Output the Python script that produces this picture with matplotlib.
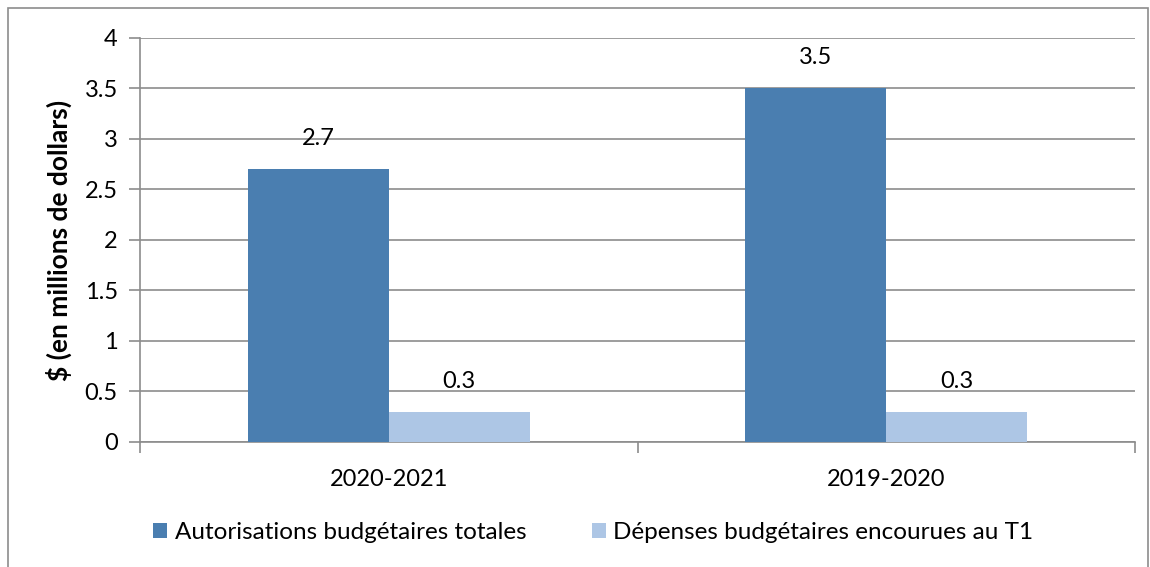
import numpy as np
import matplotlib.pyplot as plt
from matplotlib.patches import Rectangle

plt.rcParams['font.family'] = ['Lato', 'DejaVu Sans']

categories = ['2020-2021', '2019-2020']
series_names = ['Autorisations budgétaires totales', 'Dépenses budgétaires encourues au T1']
autorisations = [2.7, 3.5]
depenses = [0.3, 0.3]
y_ticks = [0, 0.5, 1, 1.5, 2, 2.5, 3, 3.5, 4]
y_tick_labels = ['0', '0.5', '1', '1.5', '2', '2.5', '3', '3.5', '4']

dark = '#4A7EB0'
light = '#ADC6E5'
grid_col = '#8C8C8C'

fig = plt.figure(figsize=(11.5, 5.67), dpi=100)
ax = fig.add_axes([0.1217, 0.2205, 0.8653, 0.7125])

x = np.arange(len(categories))
w = 0.283
b1 = ax.bar(x - w / 2, autorisations, w, color=dark, label=series_names[0], zorder=3)
b2 = ax.bar(x + w / 2, depenses, w, color=light, label=series_names[1], zorder=3)

for bars in (b1, b2):
    for r in bars:
        ax.annotate(f'{r.get_height():.1f}', (r.get_x() + r.get_width() / 2, r.get_height()),
                    xytext=(0, 22), textcoords='offset points', ha='center', va='center',
                    fontsize=17, color='black')

ax.set_xlim(-0.5, 1.5)
ax.set_ylim(0, 4)
ax.set_yticks(y_ticks)
ax.set_yticklabels(y_tick_labels, fontsize=17)
ax.yaxis.grid(True, color=grid_col, linewidth=1.2, zorder=0)
ax.tick_params(axis='y', length=8, width=1.2, color=grid_col, pad=8)

# category labels centred, tick marks at the category boundaries
ax.set_xticks([-0.5, 0.5, 1.5])
ax.set_xticklabels([])
ax.tick_params(axis='x', length=8, width=1.2, color=grid_col)
for xi, c in zip(x, categories):
    ax.text(xi, -0.27, c, ha='center', va='top', fontsize=17, transform=ax.transData)

for s in ('top', 'right'):
    ax.spines[s].set_visible(False)
for s in ('left', 'bottom'):
    ax.spines[s].set_color(grid_col)
    ax.spines[s].set_linewidth(1.2)

ax.set_ylabel('$ (en millions de dollars)', fontsize=19, fontweight='bold')
ax.yaxis.set_label_coords(-0.068, 0.5)

fig.legend(handles=[b1, b2], loc='center', bbox_to_anchor=(0.516, 0.06), ncol=2,
           frameon=False, fontsize=17.5, handlelength=0.58, handleheight=0.58,
           handletextpad=0.3, columnspacing=2.7)

fig.patches.append(Rectangle((8 / 1150, -0.01), 1140 / 1150, 1 - 8 / 567 + 0.01,
                             transform=fig.transFigure, fill=False,
                             edgecolor='#8C8C8C', linewidth=1.2))

fig.savefig('out.png', dpi=100)
